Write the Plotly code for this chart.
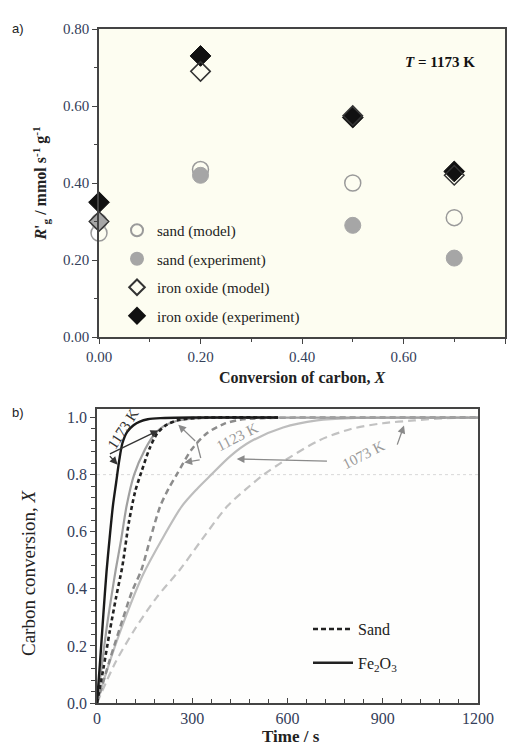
import plotly.graph_objects as go

# ---------------- Panel a data ----------------
conv_x = [0.0, 0.2, 0.5, 0.7]
sand_model = [0.27, 0.435, 0.40, 0.31]
sand_exp = [0.30, 0.42, 0.29, 0.205]
iron_model = [0.30, 0.69, 0.575, 0.42]
iron_exp = [0.35, 0.73, 0.57, 0.43]
a_ticks = [0.0, 0.2, 0.4, 0.6, 0.8]

# ---------------- Panel b data ----------------
fe1173_t = [0, 10, 20, 30, 40, 50, 60, 70, 80, 95, 115, 135, 160, 200, 300, 570]
fe1173_x = [0, 0.15, 0.31, 0.46, 0.58, 0.69, 0.77, 0.85, 0.91, 0.95, 0.973, 0.986, 0.994, 0.998, 1.0, 1.0]

fe1123_t = [0, 15, 30, 45, 59, 76, 93, 117, 151, 180, 210, 250, 320, 450, 1200]
fe1123_x = [0, 0.13, 0.26, 0.37, 0.467, 0.572, 0.689, 0.80, 0.888, 0.94, 0.97, 0.988, 0.998, 1.0, 1.0]

fe1073_t = [0, 30, 60, 100, 145, 204, 267, 315, 360, 420, 482, 586, 693, 800, 1200]
fe1073_x = [0, 0.11, 0.21, 0.33, 0.45, 0.572, 0.689, 0.75, 0.80, 0.865, 0.915, 0.965, 0.99, 0.998, 1.0]

sand1173_t = [0, 20, 40, 60, 80, 100, 120, 140, 165, 190, 220, 260, 320, 570]
sand1173_x = [0, 0.12, 0.25, 0.37, 0.48, 0.63, 0.74, 0.81, 0.89, 0.945, 0.975, 0.992, 0.999, 1.0]

sand1123_t = [0, 40, 80, 110, 140, 167, 199, 225, 251, 298, 346, 400, 450, 520, 1200]
sand1123_x = [0, 0.15, 0.29, 0.39, 0.467, 0.572, 0.689, 0.75, 0.80, 0.888, 0.945, 0.978, 0.992, 0.998, 1.0]

sand1073_t = [0, 57, 120, 188, 261, 330, 410, 470, 525, 586, 700, 800, 900, 1000, 1100, 1200]
sand1073_x = [0, 0.14, 0.26, 0.37, 0.467, 0.572, 0.689, 0.75, 0.80, 0.846, 0.92, 0.96, 0.98, 0.99, 0.998, 1.0]

b_grid_level = 0.8

# annotation arrows in panel b: (tail_t, tail_X, head_t, head_X, color, head style)
b_arrows = [
    (36, 0.87, 65, 0.835, "#333333", 2),
    (36, 0.87, 193, 0.955, "#333333", 2),
    (314, 0.913, 256, 0.975, "#8a8a8a", 2),
    (328, 0.853, 275, 0.843, "#8a8a8a", 2),
    (328, 0.853, 314, 0.913, "#8a8a8a", 0),
    (729, 0.847, 440, 0.855, "#8a8a8a", 2),
    (944, 0.90, 967, 0.972, "#8a8a8a", 2),
]
b_labels = [
    ("1173 K", 82, 0.96, -57, "#333333"),
    ("1123 K", 441, 0.933, -27, "#9a9a9a"),
    ("1073 K", 838, 0.87, -27, "#9a9a9a"),
]

SERIF = "Liberation Serif"
TICKCOL = "#34405a"

fig = go.Figure()

# ---- panel a traces ----
fig.add_trace(go.Scatter(x=conv_x, y=sand_model, mode="markers", name="sand (model)",
                         marker=dict(symbol="circle", size=16, color="rgba(255,255,255,0)",
                                     line=dict(color="#9a9a9a", width=1.5)),
                         cliponaxis=False,
                         xaxis="x", yaxis="y", legend="legend", legendrank=1, legendgroup="a1"))
fig.add_trace(go.Scatter(x=conv_x, y=sand_exp, mode="markers", name="sand (experiment)",
                         marker=dict(symbol="circle", size=16, color="#a6a6a6",
                                     line=dict(color="#a6a6a6", width=1)),
                         cliponaxis=False,
                         xaxis="x", yaxis="y", legend="legend", legendrank=2, legendgroup="a2"))
fig.add_trace(go.Scatter(x=conv_x, y=iron_exp, mode="markers", name="iron oxide (experiment)",
                         marker=dict(symbol="diamond", size=16, color="#111111",
                                     line=dict(color="#111111", width=1)),
                         cliponaxis=False,
                         xaxis="x", yaxis="y", legend="legend", legendrank=4, legendgroup="a4"))
fig.add_trace(go.Scatter(x=conv_x, y=iron_model, mode="markers", name="iron oxide (model)",
                         marker=dict(symbol="diamond", size=15, color="rgba(255,255,255,0)",
                                     line=dict(color="#333333", width=1.5)),
                         cliponaxis=False,
                         xaxis="x", yaxis="y", legend="legend", legendrank=3, legendgroup="a3"))

# ---- panel b traces ----
curves = [
    (sand1073_t, sand1073_x, "#c2c2c2", "8px,5px", 2.2),
    (fe1073_t, fe1073_x, "#bdbdbd", "solid", 2.2),
    (sand1123_t, sand1123_x, "#8c8c8c", "6px,4px", 2.5),
    (fe1123_t, fe1123_x, "#a0a0a0", "solid", 2.2),
    (sand1173_t, sand1173_x, "#222222", "4px,3px", 2.6),
    (fe1173_t, fe1173_x, "#1a1a1a", "solid", 2.4),
]
for t, xv, col, dash, w in curves:
    fig.add_trace(go.Scatter(x=t, y=xv, mode="lines", showlegend=False,
                             line=dict(color=col, dash=dash, width=w, shape="spline", smoothing=0.8),
                             xaxis="x2", yaxis="y2"))

fig.add_trace(go.Scatter(x=[None], y=[None], mode="lines", name="Sand",
                         line=dict(color="#222222", dash="5px,3px", width=2.5),
                         xaxis="x2", yaxis="y2", legend="legend2", legendgroup="b1"))
fig.add_trace(go.Scatter(x=[None], y=[None], mode="lines", name="Fe<sub>2</sub>O<sub>3</sub>",
                         line=dict(color="#222222", width=2.5),
                         xaxis="x2", yaxis="y2", legend="legend2", legendgroup="b2"))

# the page body has an 8 px margin, so the figure starts at (8, 8) in the window
OFF = 8
W, H = 517 - OFF, 747 - OFF
def px_x(p): return (p - OFF) / W
def px_y(p): return 1 - (p - OFF) / H

axis_common = dict(showline=True, mirror=True, linecolor="#444444", linewidth=1.5,
                   showgrid=False, zeroline=False, ticks="outside", ticklen=5, tickwidth=1.2,
                   tickcolor="#444444", automargin=False,
                   tickfont=dict(family=SERIF, size=15, color=TICKCOL))

annotations = [
    dict(text="a)", x=px_x(10), y=px_y(28), xref="paper", yref="paper", showarrow=False,
         xanchor="left", yanchor="middle", font=dict(family="Liberation Sans", size=13, color="#222")),
    dict(text="b)", x=px_x(10), y=px_y(412), xref="paper", yref="paper", showarrow=False,
         xanchor="left", yanchor="middle", font=dict(family="Liberation Sans", size=13, color="#222")),
    dict(text="<b><i>T</i> = 1173 K</b>", x=0.672, y=0.714, xref="x", yref="y", showarrow=False,
         font=dict(family=SERIF, size=15, color="#111")),
    dict(text="Carbon conversion, <i>X</i>", x=px_x(28), y=px_y(573), xref="paper", yref="paper",
         showarrow=False, textangle=-90, xanchor="center", yanchor="middle",
         font=dict(family=SERIF, size=19, color="#222")),
    dict(text="<b>Time / s</b>", x=px_x(291), y=px_y(736), xref="paper", yref="paper",
         showarrow=False, xanchor="center", yanchor="middle",
         font=dict(family=SERIF, size=17, color="#222")),
]
for tt, tx, ht, hx, col, head in b_arrows:
    annotations.append(dict(text="", x=ht, y=hx, ax=tt, ay=tx, xref="x2", yref="y2",
                            axref="x2", ayref="y2", showarrow=True, arrowhead=head,
                            arrowsize=1.2, arrowwidth=1.3, arrowcolor=col, standoff=0))
for txt, tx, ty, ang, col in b_labels:
    annotations.append(dict(text=txt, x=tx, y=ty, xref="x2", yref="y2", showarrow=False,
                            textangle=ang, font=dict(family=SERIF, size=15, color=col)))

fig.update_layout(
    width=W, height=H,
    margin=dict(l=0, r=0, t=0, b=0),
    paper_bgcolor="white",
    plot_bgcolor="#fefefd",
    showlegend=True,
    xaxis=dict(domain=[px_x(99), px_x(505)], range=[0, 0.8], tickvals=a_ticks, tickformat=".2f",
               minor=dict(dtick=0.1, ticklen=3, ticks="outside", tickcolor="#444444"),
               title=dict(text="<b>Conversion of carbon, <i>X</i></b>",
                          font=dict(family=SERIF, size=16, color="#222"), standoff=8),
               anchor="y", **axis_common),
    yaxis=dict(domain=[px_y(337), px_y(29)], range=[0, 0.8], tickvals=a_ticks, tickformat=".2f",
               minor=dict(dtick=0.1, ticklen=3, ticks="outside", tickcolor="#444444"),
               title=dict(text="<b><i>R</i>'<sub>g</sub> / mmol s<sup>-1</sup> g<sup>-1</sup></b>",
                          font=dict(family=SERIF, size=16, color="#222"), standoff=12),
               anchor="x", **axis_common),
    xaxis2=dict(domain=[px_x(97), px_x(478)], range=[0, 1200], dtick=300, tick0=0,
                minor=dict(dtick=60, ticklen=4, ticks="inside", tickcolor="#444444"),
                anchor="y2", **{**axis_common, "ticks": "inside",
                                "tickfont": dict(family=SERIF, size=16, color=TICKCOL)}),
    yaxis2=dict(domain=[px_y(703), px_y(409)], range=[0, 1.03], dtick=0.2, tick0=0, tickformat=".1f",
                minor=dict(dtick=0.04, ticklen=4, ticks="outside", tickcolor="#444444"),
                anchor="x2", **{**axis_common, "tickfont": dict(family=SERIF, size=16, color=TICKCOL)}),
    legend=dict(x=px_x(117), y=px_y(214), xanchor="left", yanchor="top",
                bgcolor="rgba(0,0,0,0)", font=dict(family=SERIF, size=15, color="#222"),
                tracegroupgap=6, traceorder="grouped", itemwidth=30, itemsizing="constant"),
    legend2=dict(x=px_x(308), y=px_y(612), xanchor="left", yanchor="top",
                 bgcolor="rgba(0,0,0,0)", font=dict(family=SERIF, size=16, color="#222"),
                 tracegroupgap=10, itemwidth=40),
    annotations=annotations,
    shapes=[
        dict(type="rect", xref="x domain", yref="y domain", x0=0, x1=1, y0=0, y1=1,
             fillcolor="#fdfdf1", line=dict(width=0), layer="below"),
        dict(type="line", xref="x2 domain", yref="y2", x0=0, x1=1, y0=b_grid_level, y1=b_grid_level,
             line=dict(color="#d8d8d8", width=1, dash="dot"), layer="below"),
    ],
)

fig.write_html("out.html")
